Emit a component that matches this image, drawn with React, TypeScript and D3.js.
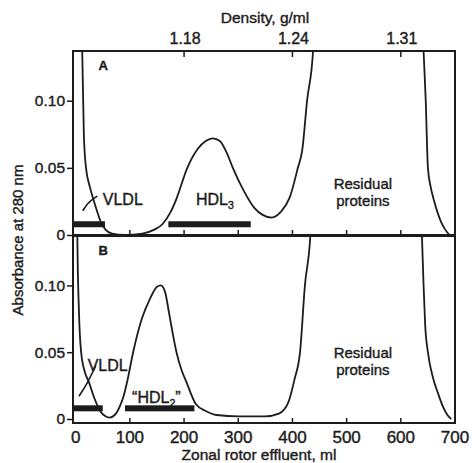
import { useEffect, useRef } from "react";
import * as d3 from "d3";

// [ml, absorbance]
const panelAMain: [number, number][] = [
  [8, 0.3], [12, 0.137], [15, 0.075], [19, 0.05], [26, 0.036], [33, 0.026], [40, 0.017],
  [46, 0.01], [55, 0.004], [67, 0.001], [90, 0], [123, 0.001], [145, 0.004], [160, 0.008],
  [175, 0.017], [185, 0.026], [206, 0.05], [225, 0.064], [240, 0.07], [253, 0.072],
  [266, 0.07], [280, 0.06], [290, 0.05], [310, 0.033], [330, 0.02], [345, 0.015],
  [362, 0.013], [378, 0.017], [395, 0.028], [410, 0.05], [418, 0.063], [427, 0.1],
  [438, 0.137], [445, 0.2],
];
const panelAResidual: [number, number][] = [
  [636, 0.2], [642, 0.137], [646, 0.1], [650, 0.05], [655, 0.036], [661, 0.026],
  [674, 0.01], [682, 0.004], [690, 0],
];
const panelBMain: [number, number][] = [
  [1, 0.25], [3, 0.137], [6, 0.08], [10, 0.05], [17, 0.035], [24, 0.028], [35, 0.015],
  [45, 0.006], [55, 0.002], [62, 0.001], [72, 0.003], [82, 0.01], [89, 0.018], [95, 0.028],
  [106, 0.05], [122, 0.075], [137, 0.09], [150, 0.099], [157, 0.1], [165, 0.095],
  [172, 0.08], [180, 0.062], [186, 0.05], [195, 0.037], [204, 0.028], [222, 0.011],
  [240, 0.006], [260, 0.003], [300, 0.002], [350, 0.002], [375, 0.004], [392, 0.012],
  [404, 0.03], [414, 0.05], [423, 0.1], [433, 0.137], [440, 0.2],
];
const panelBResidual: [number, number][] = [
  [633, 0.2], [639, 0.137], [642, 0.1], [645, 0.07], [650, 0.05], [660, 0.03],
  [668, 0.02], [678, 0.009], [686, 0.003], [693, 0],
];

// fraction bars: [from ml, to ml]
const barsA: [number, number][] = [[-5, 54], [171, 323]];
const barsB: [number, number][] = [[-5, 50], [91, 219]];

const mlTicks = [0, 100, 200, 300, 400, 500, 600, 700];
const innerTicks = [100, 200, 300, 400, 500, 600];
const densityTicks = [200, 400, 600];
const densityLabels = ["1.18", "1.24", "1.31"];
const absTicks = [0, 0.05, 0.1];

export default function App() {
  const ref = useRef<SVGSVGElement>(null);

  useEffect(() => {
    const svg = d3.select(ref.current);
    svg.selectAll("*").remove();
    const ink = "#1c1c1c";
    const font = "'Liberation Sans', Arial, sans-serif";
    const heavy = (s: any) => s.attr("stroke", ink).attr("stroke-width", 0.4);

    const x = d3.scaleLinear().domain([-5, 700]).range([73, 455]);
    const yA = d3.scaleLinear().domain([0, 0.137]).range([235, 51]);
    const yB = d3.scaleLinear().domain([-0.003, 0.137]).range([423, 236]);

    const defs = svg.append("defs");

    const panels = [
      { y: yA, id: "clipA", main: panelAMain, res: panelAResidual, bars: barsA, letter: "A", resY: 0.034 },
      { y: yB, id: "clipB", main: panelBMain, res: panelBResidual, bars: barsB, letter: "B", resY: 0.046 },
    ];

    panels.forEach((p) => {
      const [bot, top] = p.y.range();
      defs.append("clipPath").attr("id", p.id)
        .append("rect")
        .attr("x", x.range()[0]).attr("y", top)
        .attr("width", x.range()[1] - x.range()[0]).attr("height", bot - top);

      const line = d3.line<[number, number]>()
        .x((d) => x(d[0]))
        .y((d) => p.y(d[1]))
        .curve(d3.curveMonotoneX);

      const g = svg.append("g").attr("clip-path", `url(#${p.id})`);
      [p.main, p.res].forEach((s) => {
        g.append("path").datum(s)
          .attr("d", line)
          .attr("fill", "none")
          .attr("stroke", ink)
          .attr("stroke-width", 1.8);
      });

      g.selectAll("rect.bar").data(p.bars).join("rect")
        .attr("class", "bar")
        .attr("x", (d) => x(d[0]))
        .attr("width", (d) => x(d[1]) - x(d[0]))
        .attr("y", p.y(0.008) - 3)
        .attr("height", 6)
        .attr("fill", ink);

      // frame
      svg.append("rect")
        .attr("x", x.range()[0]).attr("y", top)
        .attr("width", x.range()[1] - x.range()[0]).attr("height", bot - top)
        .attr("fill", "none").attr("stroke", ink).attr("stroke-width", 2);

      // ticks on the bottom edge, pointing up
      svg.append("g").selectAll("line").data(innerTicks).join("line")
        .attr("x1", (d) => x(d)).attr("x2", (d) => x(d))
        .attr("y1", bot).attr("y2", bot - 5)
        .attr("stroke", ink).attr("stroke-width", 1.5);

      // y axis
      const ya = svg.append("g").attr("transform", `translate(${x.range()[0]},0)`)
        .call(d3.axisLeft(p.y).tickValues(absTicks)
          .tickFormat((d) => (+d === 0 ? "0" : d3.format(".2f")(+d)))
          .tickSize(6).tickPadding(2));
      ya.select(".domain").remove();
      ya.selectAll("line").attr("stroke", ink).attr("stroke-width", 1.5);
      heavy(ya.selectAll("text").attr("font-family", font).attr("font-size", 15.5).attr("fill", ink));

      heavy(svg.append("text")
        .attr("x", x(42)).attr("y", top + 19)
        .attr("font-family", font).attr("font-size", 13).attr("font-weight", "bold")
        .attr("fill", ink).text(p.letter));

      heavy(svg.append("text")
        .attr("font-family", font).attr("font-size", 15).attr("fill", ink)
        .attr("text-anchor", "middle"))
        .selectAll("tspan").data(["Residual", "proteins"]).join("tspan")
        .attr("x", x(530))
        .attr("y", (d, i) => p.y(p.resY) + i * 17)
        .text((d) => d);
    });

    // top density axis
    svg.append("g").selectAll("line").data(densityTicks).join("line")
      .attr("x1", (d) => x(d)).attr("x2", (d) => x(d))
      .attr("y1", 51).attr("y2", 57)
      .attr("stroke", ink).attr("stroke-width", 1.5);
    heavy(svg.append("g").selectAll("text").data(densityTicks).join("text")
      .attr("x", (d) => x(d) + 1).attr("y", 44)
      .attr("text-anchor", "middle")
      .attr("font-family", font).attr("font-size", 16).attr("fill", ink)
      .text((d, i) => densityLabels[i]));
    heavy(svg.append("text")
      .attr("x", 265).attr("y", 23).attr("text-anchor", "middle")
      .attr("font-family", font).attr("font-size", 15.5).attr("fill", ink)
      .text("Density, g/ml"));

    // bottom ml axis labels
    heavy(svg.append("g").selectAll("text").data(mlTicks).join("text")
      .attr("x", (d) => x(d)).attr("y", 443)
      .attr("text-anchor", "middle")
      .attr("font-family", font).attr("font-size", 17).attr("fill", ink)
      .text((d) => d));
    heavy(svg.append("text")
      .attr("x", 259).attr("y", 460).attr("text-anchor", "middle")
      .attr("font-family", font).attr("font-size", 15.5).attr("fill", ink)
      .text("Zonal rotor effluent, ml"));

    heavy(svg.append("text")
      .attr("transform", "translate(23,240) rotate(-90)")
      .attr("text-anchor", "middle")
      .attr("font-family", font).attr("font-size", 15).attr("fill", ink)
      .text("Absorbance at 280 nm"));

    // panel labels
    const lab = (t: string, mx: number, y: number, sub?: string, close?: string) => {
      const tx = heavy(svg.append("text").attr("x", x(mx)).attr("y", y)
        .attr("font-family", font).attr("font-size", 16).attr("fill", ink));
      tx.append("tspan").text(t);
      if (sub) tx.append("tspan").attr("font-size", 10.5).attr("dy", 4).text(sub);
      if (close) tx.append("tspan").attr("dy", -4).text(close);
    };
    lab("VLDL", 50, yA(0.022));
    lab("HDL", 222, yA(0.022), "3");
    lab("VLDL", 22, yB(0.036));
    lab("\u201CHDL", 104, yB(0.012), "2", "\u201D");

    // leader lines
    const leader = d3.line<[number, number]>().curve(d3.curveBasis);
    svg.append("path")
      .attr("d", leader([[x(13), yA(0.018)], [x(22), yA(0.024)], [x(40), yA(0.029)]]))
      .attr("fill", "none").attr("stroke", ink).attr("stroke-width", 1.6);
    svg.append("path")
      .attr("d", leader([[x(6), yB(0.017)], [x(22), yB(0.027)], [x(37), yB(0.04)]]))
      .attr("fill", "none").attr("stroke", ink).attr("stroke-width", 1.6);
  }, []);

  return (
    <svg ref={ref} width={472} height={463} style={{ display: "block", position: "fixed", left: 0, top: 0, background: "#fff" }} />
  );
}
